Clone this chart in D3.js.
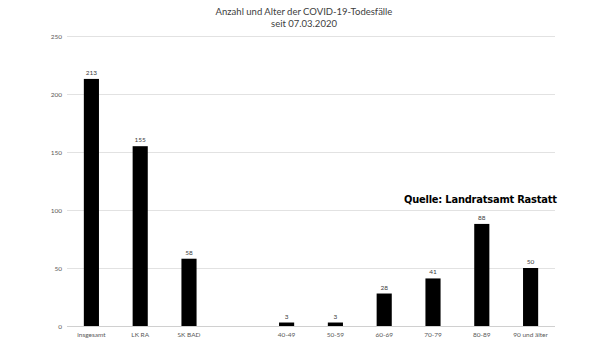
<!DOCTYPE html>
<html>
<head>
<meta charset="utf-8">
<script src="https://cdn.jsdelivr.net/npm/d3@7"></script>
<style>
  html, body { margin: 0; padding: 0; background: #fff; }
  svg { display: block; }
</style>
</head>
<body>
<svg id="chart" width="608" height="342"></svg>
<script>
// Kategorien (leerer Platz trennt Gebiete von Altersgruppen)
const categories = ["insgesamt", "LK RA", "SK BAD", "", "40-49", "50-59", "60-69", "70-79", "80-89", "90 und älter"];
const values = [213, 155, 58, null, 3, 3, 28, 41, 88, 50];
const yTicks = [0, 50, 100, 150, 200, 250];
const titleLines = ["Anzahl und Alter der COVID-19-Todesfälle", "seit 07.03.2020"];
const sourceNote = "Quelle: Landratsamt Rastatt";

const svg = d3.select("#chart");
const font = "Lato, 'Open Sans', sans-serif";
const margin = { left: 67, right: 53, top: 36, bottom: 16 };
const W = 608, H = 342;

const slots = categories.map((c, i) => i);
const x = d3.scaleBand()
  .domain(slots)
  .range([margin.left, W - margin.right])
  .paddingInner(0.69)
  .paddingOuter(0.345);

const y = d3.scaleLinear()
  .domain([0, 250])
  .range([H - margin.bottom, margin.top]);

// Gitterlinien
svg.append("g")
  .selectAll("line")
  .data(yTicks)
  .join("line")
  .attr("x1", margin.left)
  .attr("x2", W - margin.right)
  .attr("y1", d => Math.round(y(d)) + 0.5)
  .attr("y2", d => Math.round(y(d)) + 0.5)
  .attr("stroke", d => d === 0 ? "#d0d0d0" : "#e2e2e2")
  .attr("stroke-width", 1);

// Y-Achse
const yAxis = d3.axisLeft(y).tickValues(yTicks).tickSize(0).tickPadding(5);
const gy = svg.append("g")
  .attr("transform", `translate(${margin.left},0)`)
  .call(yAxis);
gy.select(".domain").remove();
gy.selectAll("text")
  .attr("font-family", font)
  .attr("font-size", 6.5)
  .attr("fill", "#595959");

// X-Achse
const xAxis = d3.axisBottom(x).tickFormat(i => categories[i]).tickSize(0).tickPadding(6);
const gx = svg.append("g")
  .attr("transform", `translate(0,${H - margin.bottom})`)
  .call(xAxis);
gx.select(".domain").remove();
gx.selectAll("text")
  .attr("font-family", font)
  .attr("font-size", 6.5)
  .attr("fill", "#595959");

// Balken
const data = slots.filter(i => values[i] != null);
svg.append("g")
  .selectAll("rect")
  .data(data)
  .join("rect")
  .attr("x", i => x(i))
  .attr("width", x.bandwidth())
  .attr("y", i => y(values[i]))
  .attr("height", i => y(0) - y(values[i]))
  .attr("fill", "#000");

// Wertbeschriftungen
svg.append("g")
  .selectAll("text")
  .data(data)
  .join("text")
  .attr("x", i => x(i) + x.bandwidth() / 2)
  .attr("y", i => y(values[i]) - 4)
  .attr("text-anchor", "middle")
  .attr("font-family", font)
  .attr("font-size", 6.5)
  .attr("fill", "#404040")
  .text(i => values[i]);

// Titel
svg.append("g")
  .selectAll("text")
  .data(titleLines)
  .join("text")
  .attr("x", 304)
  .attr("y", (d, i) => 15 + i * 12)
  .attr("text-anchor", "middle")
  .attr("font-family", font)
  .attr("font-size", 9.5)
  .attr("fill", "#404040")
  .text(d => d);

// Quellenangabe
svg.append("text")
  .attr("x", 404)
  .attr("y", 203)
  .attr("font-family", "'DejaVu Sans Condensed', 'DejaVu Sans', sans-serif")
  .attr("font-weight", "bold")
  .attr("font-size", 11)
  .attr("textLength", 153)
  .attr("lengthAdjust", "spacing")
  .attr("fill", "#000")
  .text(sourceNote);
</script>
</body>
</html>
